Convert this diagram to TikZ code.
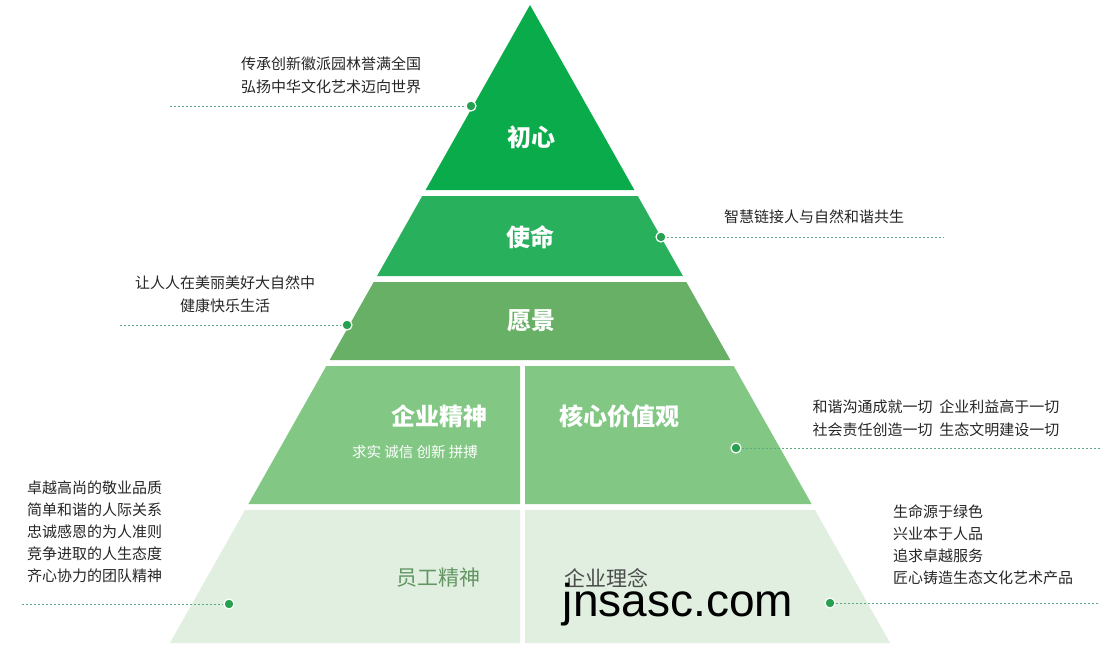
\documentclass[tikz,border=0pt]{standalone}
\usepackage{fontspec}
\setmainfont{Noto Sans CJK SC}
\newfontfamily\latinf{Liberation Sans}
\begin{document}
\begin{tikzpicture}[x=1pt,y=-1pt,
  lbl/.style={font=\fontsize{15}{17}\selectfont, text=black!85, inner sep=0},
  tier/.style={font=\fontsize{24}{27}\selectfont\bfseries, text=white, inner sep=0},
  dot/.style={circle, fill={rgb,255:red,40;green,160;blue,80}, draw=white, line width=1.2pt, minimum size=10pt, inner sep=0},
  lead/.style={draw={rgb,255:red,90;green,170;blue,130}, dashed, dash pattern=on 2pt off 2pt, line width=0.6pt}]
\useasboundingbox (0,0) rectangle (1100,650);
\fill[white] (0,0) rectangle (1100,650);
\def\L#1{530-0.5643*(#1-5)}
\def\R#1{530+0.5643*(#1-5)}
% tiers
\fill[color={rgb,255:red,10;green,171;blue,74}] (530,5) -- ({\R{190}},190) -- ({\L{190}},190) -- cycle;
\fill[color={rgb,255:red,40;green,176;blue,92}] ({\L{196}},196) -- ({\R{196}},196) -- ({\R{276}},276) -- ({\L{276}},276) -- cycle;
\fill[color={rgb,255:red,103;green,176;blue,102}] ({\L{282}},282) -- ({\R{282}},282) -- ({\R{360}},360) -- ({\L{360}},360) -- cycle;
\fill[color={rgb,255:red,130;green,200;blue,132}] ({\L{366}},366) -- (520,366) -- (520,504) -- ({\L{504}},504) -- cycle;
\fill[color={rgb,255:red,130;green,200;blue,132}] (525,366) -- ({\R{366}},366) -- ({\R{504}},504) -- (525,504) -- cycle;
\fill[color={rgb,255:red,224;green,239;blue,224}] ({\L{510}},510) -- (520,510) -- (520,643) -- ({\L{643}},643) -- cycle;
\fill[color={rgb,255:red,224;green,239;blue,224}] (525,510) -- ({\R{510}},510) -- ({\R{643}},643) -- (525,643) -- cycle;
% tier labels
\node[tier] (t1) at (531,137) {初心};
\node[tier] (t2) at (530,237) {使命};
\node[tier] (t3) at (531,321) {愿景};
\node[tier] (t4a) at (439,416) {企业精神};
\node[inner sep=0, text=white, font=\fontsize{14.5}{16}\selectfont] (t4s) at (415,452) {求实\ 诚信\ 创新\ 拼搏};
\node[tier] (t4b) at (619,416) {核心价值观};
\node[tier, text={rgb,255:red,100;green,150;blue,100}, font=\fontsize{21}{24}\selectfont] (t5a) at (438,578) {员工精神};
\node[tier, text=black!70, font=\fontsize{21}{24}\selectfont] (t5b) at (606,578) {企业理念};
\node[inner sep=0, font=\latinf\fontsize{46}{48}\selectfont] (wm) at (678,605) {jnsasc.com};
% leaders
\coordinate (a1) at (170,106); \node[dot] (d1) at (471,106) {};
\coordinate (a2) at (943,237); \node[dot] (d2) at (661,237) {};
\coordinate (a3) at (120,325); \node[dot] (d3) at (347,325) {};
\coordinate (a4) at (1100,448); \node[dot] (d4) at (736,448) {};
\coordinate (a5) at (22,604); \node[dot] (d5) at (229,604) {};
\coordinate (a6) at (1100,603); \node[dot] (d6) at (830,603) {};
\path[lead] (a1) -- (d1); \path[lead] (d2) -- (a2); \path[lead] (a3) -- (d3);
\path[lead] (d4) -- (a4); \path[lead] (a5) -- (d5); \path[lead] (d6) -- (a6);
% side text
\node[lbl, align=left] (s1) at (331,75) {传承创新徽派园林誉满全国\\[6pt]弘扬中华文化艺术迈向世界};
\node[lbl] (s2) at (814,217) {智慧链接人与自然和谐共生};
\node[lbl, align=center] (s3) at (225,294) {让人人在美丽美好大自然中\\[6pt]健康快乐生活};
\node[lbl, align=left] (s4) at (936,418) {和谐沟通成就一切\ \ 企业利益高于一切\\[6pt]社会责任创造一切\ \ 生态文明建设一切};
\node[lbl, align=left, anchor=north west] (s5) at (27,481) {卓越高尚的敬业品质\\[5pt]简单和谐的人际关系\\[5pt]忠诚感恩的为人准则\\[5pt]竞争进取的人生态度\\[5pt]齐心协力的团队精神};
\node[lbl, align=left, anchor=north west] (s6) at (893,505) {生命源于绿色\\[5pt]兴业本于人品\\[5pt]追求卓越服务\\[5pt]匠心铸造生态文化艺术产品};
\end{tikzpicture}
\end{document}
